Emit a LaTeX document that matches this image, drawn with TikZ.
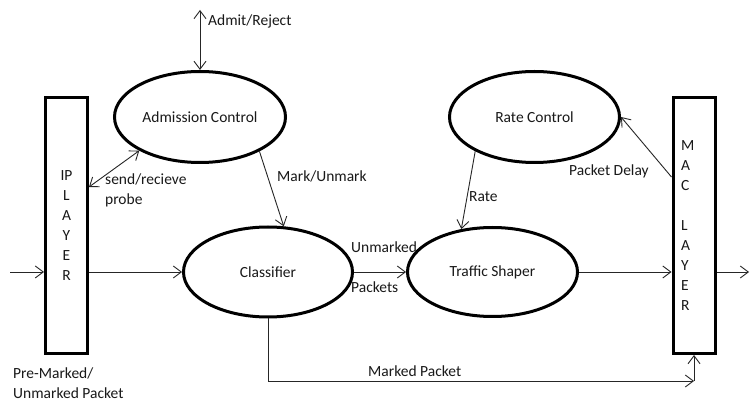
\documentclass[tikz,border=0pt]{standalone}
\usepackage{fontspec}
\setmainfont{Carlito}
\usetikzlibrary{shapes.geometric,arrows.meta}
\begin{document}
\begin{tikzpicture}[x=1pt,y=-1pt,
  >={Straight Barb[length=8pt,width=12pt]},
  every node/.style={font=\fontsize{15.5}{20}\selectfont, text=black!90},
  proc/.style={ellipse, draw=black, line width=3pt, inner sep=0pt},
  layerbox/.style={rectangle, draw=black, line width=3pt, inner sep=0pt, minimum width=42pt, minimum height=256pt},
  conn/.style={draw=black!85, line width=0.9pt},
  lbl/.style={anchor=west, inner sep=0pt}
]
\useasboundingbox[fill=white] (0,0) rectangle (750,403);

% layers
\node[layerbox, align=center] (ip) at (66.5,226) {IP\\L\\A\\Y\\E\\R};
\node[layerbox, align=left, text width=26pt, inner xsep=8pt] (mac) at (694,225.5) {M\\A\\C\\[20pt]L\\A\\Y\\E\\R};

% processes
\node[proc, minimum width=171pt, minimum height=91pt] (adm) at (200,117) {Admission Control};
\node[proc, minimum width=170pt, minimum height=91pt] (rc) at (534.5,117) {Rate Control};
\node[proc, minimum width=169pt, minimum height=90pt] (cls) at (268,272) {Classifier};
\node[proc, minimum width=170pt, minimum height=89pt] (ts) at (492.5,272) {Traffic Shaper};

% free ends
\coordinate (ar) at (200,10);
\coordinate (in) at (10,272);
\coordinate (out) at (749,272);
\coordinate (mk) at (694,381);

% connectors
\draw[conn,<->] (ar) -- (adm.north);
\draw[conn,<->] ([yshift=39pt]ip.east) -- (adm.209);
\draw[conn,->] (adm.330) -- (cls.71);
\draw[conn,->] (rc.210) -- (ts.126);
\draw[conn,->] ([yshift=48.5pt]mac.west) -- (rc.east);
\draw[conn,->] (in) -- ([yshift=-46pt]ip.west);
\draw[conn,->] ([yshift=-46pt]ip.east) -- (cls.west);
\draw[conn,->] (cls.east) -- (ts.west);
\draw[conn,->] (ts.east) -- ([yshift=-46.5pt]mac.west);
\draw[conn,->] ([yshift=-46.5pt]mac.east) -- (out);
\draw[conn,->] (cls.south) |- (mk);
\draw[conn,->] (mk) -- (mac.south);

% labels
\node[lbl] (l1) at (208,21) {Admit/Reject};
\node[lbl, align=left] (l2) at (105,190) {send/recieve\\probe};
\node[lbl] (l3) at (277,176) {Mark/Unmark};
\node[lbl] (l4) at (469,197) {Rate};
\node[lbl] (l5) at (569,171) {Packet Delay};
\node[lbl] (l6) at (351,247) {Unmarked};
\node[lbl] (l7) at (351,287) {Packets};
\node[lbl] (l8) at (368,371) {Marked Packet};
\node[lbl, align=left] (l9) at (13,383) {Pre-Marked/\\Unmarked Packet};
\end{tikzpicture}
\end{document}
